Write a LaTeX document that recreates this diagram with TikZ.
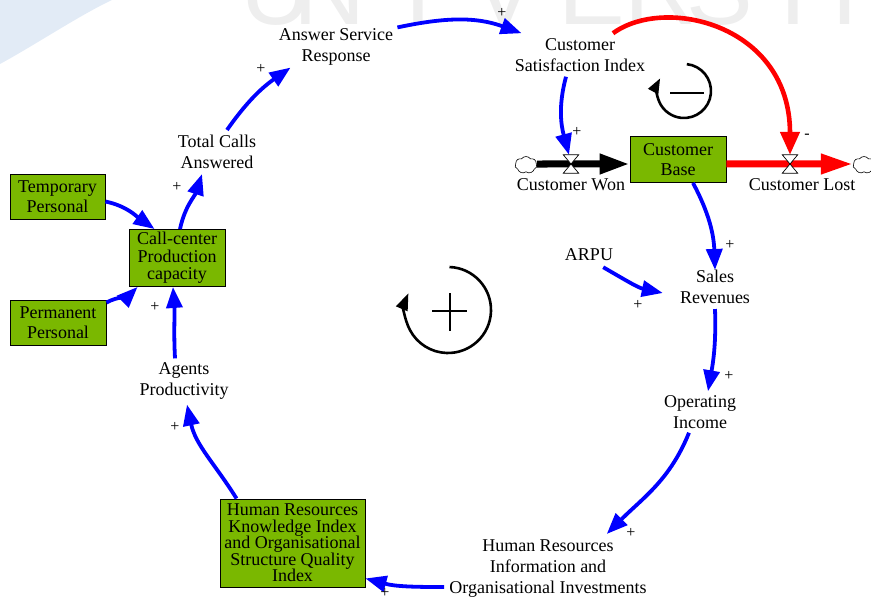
\documentclass[tikz,border=0pt]{standalone}
\usepackage{fontspec}
\setmainfont{Liberation Serif}
\newfontfamily\wmfont{Liberation Sans}
\usetikzlibrary{arrows.meta,shapes.symbols}
\definecolor{stockgreen}{RGB}{122,184,0}
\definecolor{linkblue}{RGB}{0,0,255}
\definecolor{linkred}{RGB}{255,0,0}
\definecolor{wmgray}{RGB}{238,238,238}
\definecolor{wmblue}{RGB}{226,235,246}

\begin{document}
\begin{tikzpicture}[x=1pt,y=1pt,
  lbl/.style={align=center, inner sep=0pt, font=\fontsize{18}{21}\selectfont},
  stock/.style={draw=black, line width=0.9pt, fill=stockgreen, align=center,
    inner sep=0pt, font=\fontsize{18}{20.5}\selectfont},
  link/.style={draw=linkblue, line width=3.8pt, -{Triangle[length=21pt,width=16pt]}},
  neglink/.style={draw=linkred, line width=4.6pt, -{Triangle[length=23pt,width=19pt]}},
  pol/.style={inner sep=0pt, font=\fontsize{16}{16}\selectfont},
  flowblk/.style={draw=black, line width=7pt, -{Triangle[length=30pt,width=19pt]}},
  flowred/.style={draw=linkred, line width=7pt, -{Triangle[length=32pt,width=19pt]}},
  valvebox/.style={inner sep=0pt, minimum width=15pt, minimum height=18pt},
  valveshape/.style={draw=black, fill=white, line width=0.7pt},
  source/.style={cloud, cloud puffs=7, cloud puff arc=110, draw=black, fill=white,
    line width=0.6pt, minimum width=22pt, minimum height=17pt, inner sep=0pt},
  loopline/.style={draw=black, line width=2.6pt},
  wm/.style={inner sep=0pt, anchor=base, text=wmgray, font=\wmfont\fontsize{100}{100}\selectfont}
]
\useasboundingbox (0,0) rectangle (871,-599);

% faint background watermark
\begin{scope}
  \clip (0,0) rectangle (871,-599);
  \fill[wmblue] (0,0) -- (0,-64) .. controls (35,-45) and (80,-15) .. (112,0) -- cycle;
  \foreach \ch/\xx [count=\k] in {U/277,N/330,I/418,V/505,E/592,R/661,S/720,I/793,T/845}
    \node[wm] (wm\k) at (\xx,-25) {\ch};
\end{scope}

% stocks
\node[stock, minimum width=96pt, minimum height=46pt] (base) at (678,-159.5) {Customer\\Base};
\node[stock, minimum width=95pt, minimum height=45pt] (temp) at (57.5,-196.5) {Temporary\\Personal};
\node[stock, minimum width=96pt, minimum height=45pt] (perm) at (58,-322.5) {Permanent\\Personal};
\node[stock, minimum width=96pt, minimum height=57pt, font=\fontsize{18}{17.5}\selectfont]
  (cc) at (177,-258) {Call-center\\Production\\capacity};
\node[stock, minimum width=145pt, minimum height=88pt, font=\fontsize{18}{16.5}\selectfont]
  (hrk) at (292.5,-543) {Human Resources\\Knowledge Index\\and Organisational\\Structure Quality\\Index};

% auxiliary variables
\node[lbl] (asr) at (336,-47) {Answer Service\\Response};
\node[lbl] (csi) at (580,-55) {Customer\\Satisfaction Index};
\node[lbl] (arpu) at (589,-255) {ARPU};
\node[lbl] (sales) at (715,-287) {Sales\\Revenues};
\node[lbl] (opinc) at (700,-412) {Operating\\Income};
\node[lbl] (hrinfo) at (548,-569) {Human Resources\\Information and\\Organisational Investments};
\node[lbl] (agents) at (184,-381) {Agents\\Productivity};
\node[lbl] (tca) at (217,-152) {Total Calls\\Answered};

% flows with sources/sinks and valves
\node[source] (cl) at (526,-165) {};
\node[source] (cr) at (864,-165) {};
\node[valvebox] (vwon) at (571,-164) {};
\node[valvebox] (vlost) at (790,-164) {};
\node[lbl] (won) at (571,-185) {Customer Won};
\node[lbl] (lost) at (802,-185) {Customer Lost};

\draw[flowblk] ([yshift=1pt]cl.east) -- ([yshift=-4.5pt]base.west);
\draw[flowred] ([yshift=-4.5pt]base.east) -- ([yshift=1pt]cr.west);

% causal links
\draw[link] ([xshift=4pt,yshift=1pt]asr.north east) to[out=12,in=160] ([xshift=7pt,yshift=5pt]csi.north west);
\draw[link] ([xshift=-14pt,yshift=-5pt]csi.south) to[out=-105,in=105] ([xshift=-2pt]vwon.north);
\draw[neglink] ([xshift=33pt,yshift=5pt]csi.north) .. controls +(52,38) and +(0,130) .. (vlost.north);
\draw[link] ([xshift=15pt]base.south) to[out=-62,in=92] (sales.north);
\draw[link] ([xshift=-10pt,yshift=-6pt]arpu.south east) to[out=-30,in=168] ([xshift=-17pt,yshift=-6pt]sales.west);
\draw[link] ([yshift=-5pt]sales.south) to[out=-88,in=80] ([xshift=8pt,yshift=4pt]opinc.north);
\draw[link] ([xshift=-11pt,yshift=-4pt]opinc.south) to[out=-112,in=45] ([xshift=-40pt,yshift=6pt]hrinfo.north east);
\draw[link] ([xshift=-5pt,yshift=11pt]hrinfo.south west) to[out=180,in=-15] ([yshift=9pt]hrk.south east);
\draw[link] ([xshift=17pt]hrk.north west) to[out=122,in=-78] ([xshift=3pt,yshift=-5pt]agents.south);
\draw[link] ([xshift=-9pt,yshift=4pt]agents.north) to[out=93,in=-86] ([xshift=-4pt]cc.south);
\draw[link] ([yshift=-5pt]temp.east) to[out=-12,in=145] ([xshift=26pt]cc.north west);
\draw[link] ([yshift=-3pt]perm.north east) to[out=28,in=-135] ([xshift=9pt]cc.south west);
\draw[link] ([xshift=3pt]cc.north) to[out=78,in=-108] ([xshift=-15pt,yshift=-5pt]tca.south);
\draw[link] ([xshift=10pt,yshift=5pt]tca.north) to[out=55,in=-145] ([xshift=12pt,yshift=-2pt]asr.south west);

% valves drawn over the flow pipes
\draw[valveshape] (vwon.north west) -- (vwon.north east) -- (vwon.south west) -- (vwon.south east) -- cycle;
\draw[valveshape] (vlost.north west) -- (vlost.north east) -- (vlost.south west) -- (vlost.south east) -- cycle;

% link polarities
\node[pol] (p1) at (502,-13) {+};
\node[pol] (p2) at (577,-132) {+};
\node[pol] (p3) at (807,-136) {-};
\node[pol] (p4) at (730,-245) {+};
\node[pol] (p5) at (638,-305) {+};
\node[pol] (p6) at (729,-376) {+};
\node[pol] (p7) at (631,-533) {+};
\node[pol] (p8) at (385,-593) {+};
\node[pol] (p9) at (175,-427) {+};
\node[pol] (p10) at (155,-307) {+};
\node[pol] (p11) at (177,-187) {+};
\node[pol] (p12) at (261,-69) {+};

% loop identifiers
\coordinate (posloop) at (448,-310);
\draw[loopline, -{Triangle[length=17pt,width=12pt]}] ([shift={(88:43)}]posloop) arc[start angle=88, end angle=-203, radius=43];
\draw[line width=2pt] ([xshift=-16pt,yshift=-1pt]posloop) -- ([xshift=19pt,yshift=-1pt]posloop);
\draw[line width=2pt] ([xshift=2pt,yshift=17pt]posloop) -- ([xshift=2pt,yshift=-21pt]posloop);

\coordinate (negloop) at (684,-91);
\draw[loopline, -{Triangle[length=15pt,width=11pt]}] ([shift={(84:27)}]negloop) arc[start angle=84, end angle=-208, radius=27];
\draw[line width=2pt] ([xshift=-14pt,yshift=-2pt]negloop) -- ([xshift=20pt,yshift=-2pt]negloop);
\end{tikzpicture}
\end{document}
